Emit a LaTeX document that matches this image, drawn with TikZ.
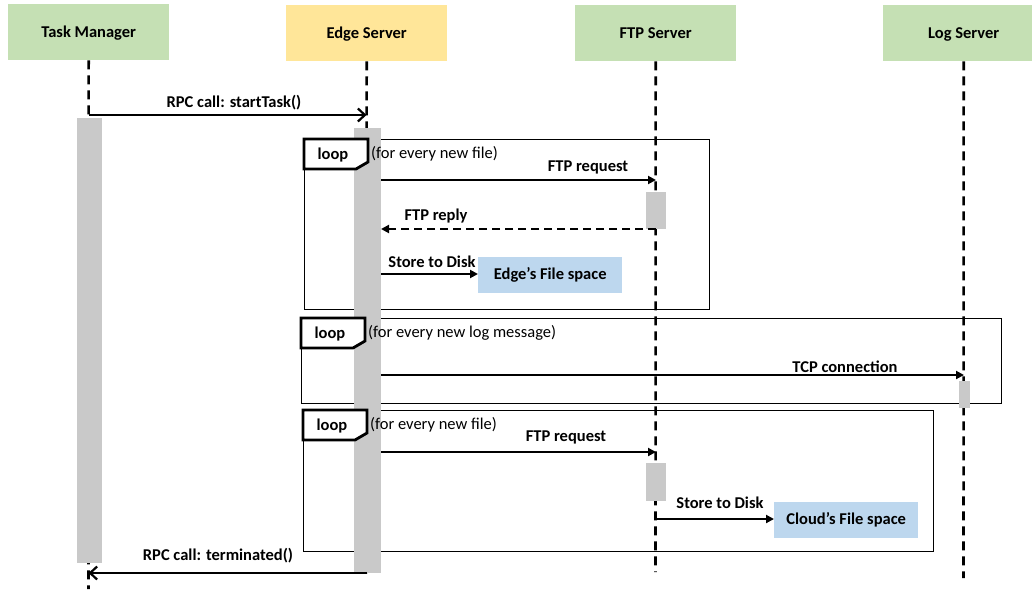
\documentclass[tikz,border=0pt]{standalone}
\usepackage{fontspec}
\setmainfont{Carlito}
\usetikzlibrary{arrows.meta}

\definecolor{headgreen}{RGB}{197,224,180}
\definecolor{headyellow}{RGB}{255,230,153}
\definecolor{storeblue}{RGB}{189,215,238}
\definecolor{bargray}{RGB}{201,201,201}

\begin{document}
\begin{tikzpicture}[x=1pt,y=-1pt,
  head/.style={font=\fontsize{16.5}{19}\selectfont\bfseries, minimum width=161pt,
    minimum height=56pt, inner sep=0pt, anchor=north west, text depth=0pt},
  life/.style={line width=2.6pt, dash pattern=on 9pt off 6pt},
  actbar/.style={fill=bargray, draw=none, inner sep=0pt, anchor=north west},
  msg/.style={line width=2.6pt, -{Triangle[length=8pt,width=8pt]}},
  reply/.style={msg, dash pattern=on 8pt off 5pt},
  call/.style={line width=2.6pt, -{Straight Barb[length=7pt,width=13pt,line width=2.2pt]}},
  lbl/.style={font=\fontsize{16.5}{19}\selectfont\bfseries, inner sep=0pt},
  cond/.style={font=\fontsize{16.5}{19}\selectfont, inner sep=0pt, anchor=west},
  frame/.style={draw, line width=1.1pt, inner sep=0pt, anchor=north west},
  looptag/.style={draw, line width=2.8pt, fill=white, line join=miter},
  store/.style={fill=storeblue, font=\fontsize{16.5}{19}\selectfont\bfseries,
    inner sep=0pt, minimum width=144pt, minimum height=36pt, anchor=north west}]

\useasboundingbox (0,0) rectangle (1032,589);

% participants
\node[head, fill=headgreen]  (tm) at (8,4)   {Task Manager};
\node[head, fill=headyellow] (es) at (286,5) {Edge Server};
\node[head, fill=headgreen]  (fs) at (575,5) {FTP Server};
\node[head, fill=headgreen]  (ls) at (883,5) {Log Server};

% loop frames
\node[frame, minimum width=405pt, minimum height=170pt] (L1) at (304,139) {};
\node[frame, minimum width=700pt, minimum height=85pt]  (L2) at (301,318) {};
\node[frame, minimum width=630pt, minimum height=141pt] (L3) at (303,410) {};

% lifelines
\coordinate (tmEnd) at (88.5,589);
\coordinate (esEnd) at (366.5,573);
\coordinate (fsEnd) at (655.5,572);
\coordinate (lsEnd) at (963.5,578);
\draw[life] (tm.south) -- (tmEnd);
\draw[life] (es.south) -- (esEnd);
\draw[life] (fs.south) -- (fsEnd);
\draw[life] (ls.south) -- (lsEnd);

% activation bars
\node[actbar, minimum width=25pt, minimum height=445pt] (tmBar)  at (77,118)  {};
\node[actbar, minimum width=27pt, minimum height=445pt] (esBar)  at (354,128) {};
\node[actbar, minimum width=20pt, minimum height=37pt]  (fsBarA) at (646,192) {};
\node[actbar, minimum width=20pt, minimum height=38pt]  (fsBarB) at (646,463) {};
\node[actbar, minimum width=11pt, minimum height=27pt]  (lsBar)  at (959,381) {};

% loop tags and conditions
\foreach \f/\c in {L1/(for every new file), L2/(for every new log message), L3/(for every new file)} {
  \draw[looptag] (\f.north west) -- ++(64,0) -- ++(0,23) -- ++(-12,7) -- ++(-52,0) -- cycle;
  \node[lbl] (\f tag) at ([shift={(29,16)}]\f.north west) {loop};
  \node[cond] (\f cond) at ([shift={(67,15)}]\f.north west) {\c};
}

% message end points
\coordinate (a1s) at (88.5,115);  \coordinate (a1e) at (366.5,115);
\coordinate (a2s) at (381,180);   \coordinate (a2e) at (656,180);
\coordinate (a3s) at (656,229);   \coordinate (a3e) at (381,229);
\coordinate (a4s) at (381,274);
\coordinate (a5s) at (381,375);   \coordinate (a5e) at (964,375);
\coordinate (a6s) at (381,452);   \coordinate (a6e) at (656,452);
\coordinate (a7s) at (656,519);
\coordinate (a8s) at (367,573);   \coordinate (a8e) at (88.5,573);

% storage targets
\node[store] (edgeFS)  at (478,257) {Edge’s File space};
\node[store] (cloudFS) at (774,502) {Cloud’s File space};

% messages
\draw[call]  (a1s) -- (a1e);
\draw[msg]   (a2s) -- (a2e);
\draw[reply] (a3s) -- (a3e);
\draw[msg]   (a4s) -- (edgeFS.west |- a4s);
\draw[msg]   (a5s) -- (a5e);
\draw[msg]   (a6s) -- (a6e);
\draw[msg]   (a7s) -- (cloudFS.west |- a7s);
\draw[call]  (a8s) -- (a8e);

% message labels
\node[lbl] (t1) at (234,103) {RPC call: startTask()};
\node[lbl] (t2) at (588,167) {FTP request};
\node[lbl] (t3) at (436,216) {FTP reply};
\node[lbl] (t4) at (432,262) {Store to Disk};
\node[lbl] (t5) at (845,367) {TCP connection};
\node[lbl] (t6) at (566,437) {FTP request};
\node[lbl] (t7) at (720,503) {Store to Disk};
\node[lbl] (t8) at (218,556) {RPC call: terminated()};
\end{tikzpicture}
\end{document}
